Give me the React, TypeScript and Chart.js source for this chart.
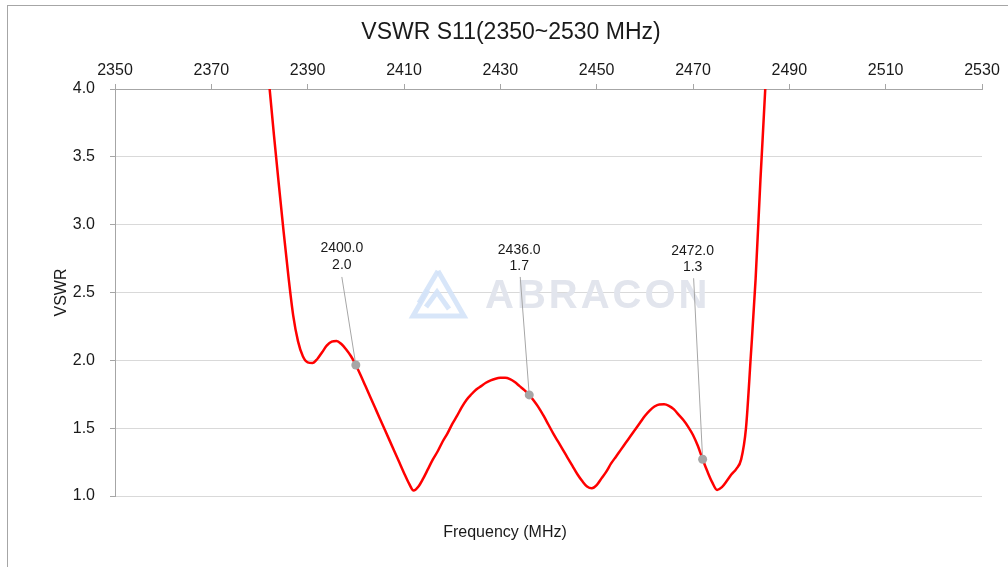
import React, { useEffect, useRef } from "react";
import { Chart, registerables } from "chart.js";

Chart.register(...registerables);

const chartTitle = "VSWR S11(2350~2530 MHz)";
const xAxisTitle = "Frequency (MHz)";
const yAxisTitle = "VSWR";
const xMin = 2350;
const xMax = 2530;
const xStep = 20;
const yMin = 1.0;
const yMax = 4.0;
const yStep = 0.5;

const frequencies = [
  2380, 2381, 2382, 2383, 2384, 2385, 2386, 2387, 2388, 2389,
  2390, 2391, 2392, 2393, 2394, 2395, 2396, 2397, 2398, 2399,
  2400, 2401, 2402, 2403, 2404, 2405, 2406, 2407, 2408, 2409,
  2410, 2411, 2412, 2413, 2414, 2415, 2416, 2417, 2418, 2419,
  2420, 2421, 2422, 2423, 2424, 2425, 2426, 2427, 2428, 2429,
  2430, 2431, 2432, 2433, 2434, 2435, 2436, 2437, 2438, 2439,
  2440, 2441, 2442, 2443, 2444, 2445, 2446, 2447, 2448, 2449,
  2450, 2451, 2452, 2453, 2454, 2455, 2456, 2457, 2458, 2459,
  2460, 2461, 2462, 2463, 2464, 2465, 2466, 2467, 2468, 2469,
  2470, 2471, 2472, 2473, 2474, 2475, 2476, 2477, 2478, 2479,
  2480, 2481, 2482, 2483, 2484, 2485, 2486, 2487,
];

const vswrValues = [
  4.9, 4.45, 4.04, 3.66, 3.3, 2.95, 2.62, 2.33, 2.14, 2.03,
  1.985, 1.98, 2.01, 2.06, 2.11, 2.138, 2.143, 2.12, 2.08, 2.03,
  1.966, 1.89, 1.81, 1.73, 1.65, 1.57, 1.49, 1.41, 1.33, 1.25,
  1.17, 1.095, 1.04, 1.07, 1.13, 1.2, 1.27, 1.33, 1.4, 1.46,
  1.53, 1.59, 1.655, 1.71, 1.75, 1.785, 1.81, 1.835, 1.852, 1.864,
  1.871, 1.872, 1.862, 1.84, 1.81, 1.78, 1.745, 1.7, 1.65, 1.59,
  1.525, 1.46, 1.4, 1.34, 1.28, 1.22, 1.16, 1.11, 1.07, 1.057,
  1.08, 1.13, 1.18, 1.24, 1.29, 1.34, 1.39, 1.44, 1.49, 1.54,
  1.59, 1.63, 1.66, 1.675, 1.676, 1.665, 1.64, 1.6, 1.56, 1.51,
  1.45, 1.37, 1.271, 1.18, 1.1, 1.045, 1.065, 1.11, 1.16, 1.2,
  1.27, 1.5, 2.03, 2.6, 3.33, 4.0, 4.8, 5.6,
];

const markerFreqs = [2400, 2436, 2472];
const markerVswr = [1.966, 1.745, 1.271];

// pixel offsets of the marker callouts (label line centres and leader start)
const calloutOffsets = [
  { dx: -14, dy1: -117, dy2: -100, lx: -14, ly: -88 },
  { dx: -10, dy1: -145, dy2: -129, lx: -9, ly: -118 },
  { dx: -10, dy1: -208, dy2: -192, lx: -9, ly: -181 },
];

const FONT = "'Liberation Sans', Arial, sans-serif";
const TEXT = "#1a1a1a";
const AXIS_GRAY = "#a6a6a6";
const GRID_GRAY = "#d9d9d9";

const titlesPlugin = {
  id: "titles",
  afterDraw(chart: any) {
    const { ctx } = chart;
    ctx.save();
    ctx.fillStyle = TEXT;
    ctx.textAlign = "center";
    ctx.textBaseline = "alphabetic";
    ctx.font = `23px ${FONT}`;
    ctx.fillText(chartTitle, 503, 33);
    ctx.font = `16px ${FONT}`;
    ctx.fillText(xAxisTitle, 497, 531);
    ctx.restore();
  },
};

const watermarkPlugin = {
  id: "watermark",
  beforeDatasetsDraw(chart: any) {
    const { ctx, chartArea } = chart;
    const L = chartArea.left;
    const T = chartArea.top;
    ctx.save();
    ctx.strokeStyle = "rgba(212,227,248,0.9)";
    ctx.lineWidth = 5;
    ctx.lineJoin = "miter";
    ctx.beginPath();
    ctx.moveTo(L + 323, T + 182);
    ctx.lineTo(L + 349, T + 227);
    ctx.lineTo(L + 298, T + 227);
    ctx.lineTo(L + 313, T + 201);
    ctx.stroke();
    ctx.beginPath();
    ctx.moveTo(L + 323, T + 182);
    ctx.lineTo(L + 304, T + 214);
    ctx.stroke();
    ctx.beginPath();
    ctx.moveTo(L + 311, T + 218);
    ctx.lineTo(L + 322, T + 203);
    ctx.lineTo(L + 334, T + 220);
    ctx.stroke();
    ctx.fillStyle = "#e2e5ed";
    ctx.font = `bold 40px ${FONT}`;
    (ctx as any).letterSpacing = "3px";
    ctx.textAlign = "left";
    ctx.textBaseline = "alphabetic";
    ctx.fillText("ABRACON", L + 370, T + 219);
    ctx.restore();
  },
};

const calloutPlugin = {
  id: "callouts",
  afterDatasetsDraw(chart: any) {
    const { ctx } = chart;
    const xs = chart.scales.x;
    const ys = chart.scales.y;
    ctx.save();
    markerFreqs.forEach((f, i) => {
      const px = xs.getPixelForValue(f);
      const py = ys.getPixelForValue(markerVswr[i]);
      const o = calloutOffsets[i];
      ctx.strokeStyle = "#a6a6a6";
      ctx.lineWidth = 1;
      ctx.beginPath();
      ctx.moveTo(px + o.lx, py + o.ly);
      ctx.lineTo(px, py);
      ctx.stroke();
      ctx.fillStyle = "#a6a6a6";
      ctx.beginPath();
      ctx.arc(px, py, 4.5, 0, Math.PI * 2);
      ctx.fill();
      ctx.fillStyle = TEXT;
      ctx.font = `14px ${FONT}`;
      ctx.textAlign = "center";
      ctx.textBaseline = "middle";
      ctx.fillText(f.toFixed(1), px + o.dx, py + o.dy1);
      ctx.fillText(markerVswr[i].toFixed(1), px + o.dx, py + o.dy2);
    });
    ctx.restore();
  },
};

export default function App() {
  const ref = useRef<HTMLCanvasElement | null>(null);

  useEffect(() => {
    if (!ref.current) return;
    const curve = frequencies.map((f, i) => ({ x: f, y: vswrValues[i] }));
    const chart = new Chart(ref.current, {
      type: "line",
      data: {
        datasets: [
          {
            label: "VSWR",
            data: curve,
            borderColor: "#ff0000",
            backgroundColor: "#ff0000",
            borderWidth: 2.5,
            pointRadius: 0,
            cubicInterpolationMode: "monotone",
            fill: false,
          } as any,
        ],
      },
      options: {
        animation: false,
        responsive: false,
        maintainAspectRatio: false,
        layout: { padding: { left: 0, right: 30, top: 48.4, bottom: 80 } },
        plugins: {
          legend: { display: false },
          tooltip: { enabled: false },
          title: { display: false },
        },
        scales: {
          x: {
            type: "linear",
            position: "top",
            min: xMin,
            max: xMax,
            ticks: {
              stepSize: xStep,
              color: TEXT,
              font: { family: FONT, size: 16 },
              padding: 4,
              maxRotation: 0,
              callback: (v: any) => String(v),
            },
            grid: {
              drawOnChartArea: false,
              drawTicks: true,
              tickLength: 5,
              tickColor: AXIS_GRAY,
            },
            border: { display: true, color: AXIS_GRAY, width: 1 },
            afterFit: (s: any) => {
              s.height = 34.6;
            },
          },
          y: {
            type: "linear",
            min: yMin,
            max: yMax,
            ticks: {
              stepSize: yStep,
              color: TEXT,
              font: { family: FONT, size: 16 },
              padding: 15,
              callback: (v: any) => Number(v).toFixed(1),
            },
            grid: {
              color: GRID_GRAY,
              lineWidth: 1,
              drawTicks: true,
              tickLength: 5,
              tickColor: AXIS_GRAY,
            },
            border: { display: true, color: AXIS_GRAY, width: 1 },
            title: {
              display: true,
              text: yAxisTitle,
              color: TEXT,
              font: { family: FONT, size: 16 },
              padding: { top: 44, bottom: 0 },
            },
            afterFit: (s: any) => {
              s.width = 107;
            },
          },
        },
      } as any,
      plugins: [watermarkPlugin, calloutPlugin, titlesPlugin],
    });
    return () => chart.destroy();
  }, []);

  return (
    <div
      style={{
        position: "fixed",
        left: 7,
        top: 5,
        width: 1004,
        height: 570,
        borderLeft: "1px solid #a6a6a6",
        borderTop: "1px solid #a6a6a6",
        background: "#fff",
      }}
    >
      <canvas ref={ref} width={1004} height={570} style={{ display: "block", width: 1004, height: 570 }} />
    </div>
  );
}
